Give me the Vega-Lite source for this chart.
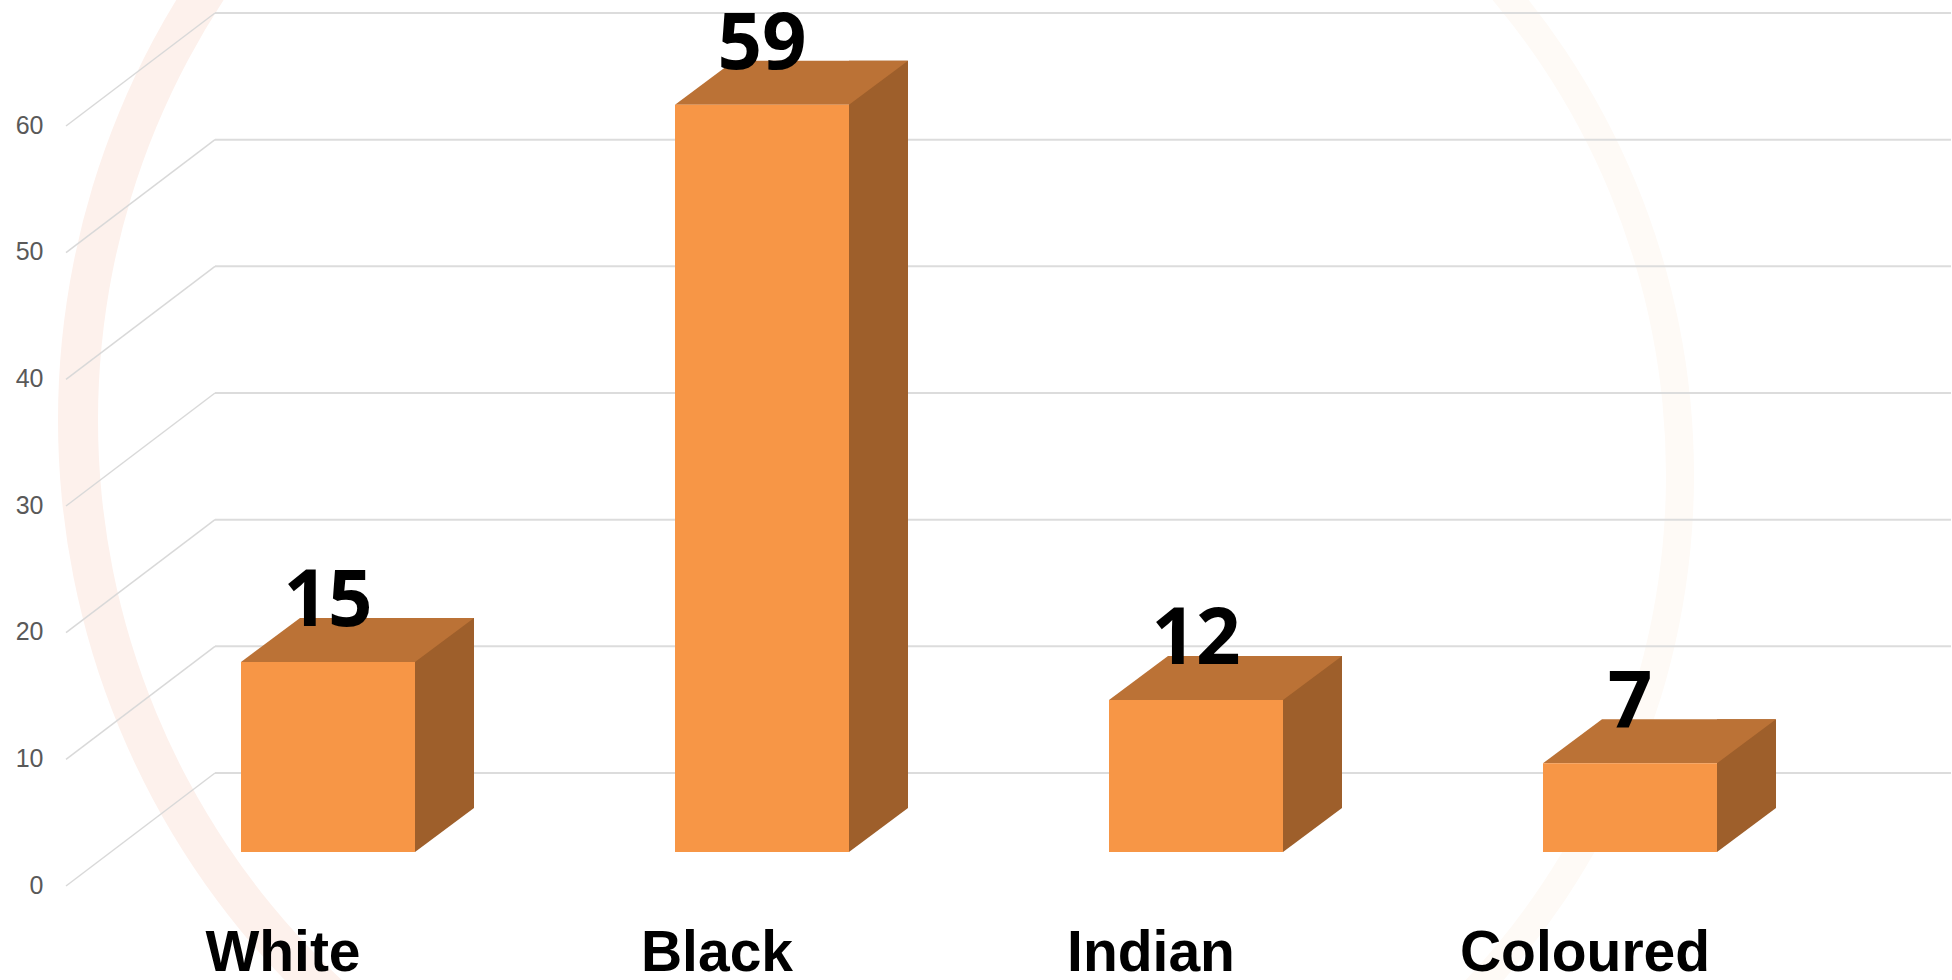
{
  "$schema": "https://vega.github.io/schema/vega-lite/v6.json",
  "width": 1736,
  "height": 760,
  "autosize": {"type": "none"},
  "padding": {"left": 215, "top": 13, "right": 1, "bottom": 207},
  "background": "#ffffff",
  "config": {"view": {"stroke": null}},
  "datasets": {
    "groups": [
      {"group": "White", "value": 15},
      {"group": "Black", "value": 59},
      {"group": "Indian", "value": 12},
      {"group": "Coloured", "value": 7}
    ],
    "levels": [
      {"level": 0}, {"level": 10}, {"level": 20}, {"level": 30},
      {"level": 40}, {"level": 50}, {"level": 60}
    ]
  },
  "layer": [
    {
      "data": {"values": [{}]},
      "mark": {"type": "arc", "theta": 3.14159, "theta2": 6.28319, "radius": 805, "radius2": 765, "fill": "#FDF1EC", "xOffset": -220, "yOffset": 27},
      "encoding": {}
    },
    {
      "data": {"values": [{}]},
      "mark": {"type": "arc", "theta": 0, "theta2": 3.14159, "radius": 765, "radius2": 737, "fill": "#FEFAF6", "xOffset": -154, "yOffset": 82},
      "encoding": {}
    },
    {
      "data": {"name": "levels"},
      "mark": {"type": "rule", "color": "#DCDCDC", "strokeWidth": 2},
      "encoding": {
        "y": {
          "field": "level",
          "type": "quantitative",
          "title": null,
          "scale": {"domain": [0, 60], "nice": false},
          "axis": {
            "values": [0, 10, 20, 30, 40, 50, 60],
            "domain": false,
            "ticks": false,
            "grid": false,
            "labelPadding": 172,
            "labelOffset": 112,
            "labelFont": "Liberation Sans",
            "labelFontSize": 25,
            "labelColor": "#595959",
            "zindex": 1
          }
        }
      }
    },
    {
      "data": {"name": "levels"},
      "mark": {"type": "rule", "color": "#D9D9D9", "strokeWidth": 1.5, "y2Offset": 113},
      "encoding": {
        "x": {"value": 0},
        "x2": {"value": -149},
        "y": {"field": "level", "type": "quantitative", "title": null},
        "y2": {"field": "level"}
      }
    },
    {
      "data": {"name": "groups"},
      "encoding": {
        "x": {
          "field": "group",
          "type": "nominal",
          "sort": null,
          "title": null,
          "scale": {"paddingInner": 0, "paddingOuter": 0},
          "axis": {
            "domain": false,
            "ticks": false,
            "tickSize": 0,
            "grid": false,
            "labelAngle": 0,
            "labelPadding": 197,
            "labelOffset": -149,
            "labelBaseline": "alphabetic",
            "labelLimit": 0,
            "labelFont": "Liberation Sans",
            "labelFontWeight": "bold",
            "labelFontSize": 57,
            "labelColor": "#000000",
            "zindex": 1
          }
        }
      },
      "layer": [
        {
          "mark": {"type": "bar", "width": 59, "xOffset": 12.5, "yOffset": 35, "y2Offset": 35, "fill": "#9E5F2B"},
          "encoding": {
            "y": {"field": "value", "type": "quantitative", "title": null},
            "y2": {"datum": 0}
          }
        },
        {
          "mark": {"type": "point", "shape": "M87,-44L87,0L146,-44Z", "size": 4, "filled": true, "opacity": 1, "strokeWidth": 0, "fill": "#9E5F2B", "xOffset": -104, "yOffset": 79},
          "encoding": {
            "y": {"datum": 0, "type": "quantitative", "title": null}
          }
        },
        {
          "mark": {"type": "point", "shape": "M-87,0L87,0L146,-44L-28,-44Z", "size": 4, "filled": true, "opacity": 1, "strokeWidth": 0, "fill": "#BB7236", "xOffset": -104, "yOffset": 79},
          "encoding": {
            "y": {"field": "value", "type": "quantitative", "title": null}
          }
        },
        {
          "mark": {"type": "bar", "width": 174, "xOffset": -104, "yOffset": 79, "y2Offset": 79, "fill": "#F79646"},
          "encoding": {
            "y": {"field": "value", "type": "quantitative", "title": null},
            "y2": {"datum": 0}
          }
        },
        {
          "mark": {"type": "text", "xOffset": -104, "yOffset": 43, "baseline": "alphabetic", "align": "center", "font": "Open Sans", "fontWeight": 700, "fontSize": 78, "color": "#000000"},
          "encoding": {
            "y": {"field": "value", "type": "quantitative", "title": null},
            "text": {"field": "value", "type": "quantitative"}
          }
        }
      ]
    }
  ]
}
